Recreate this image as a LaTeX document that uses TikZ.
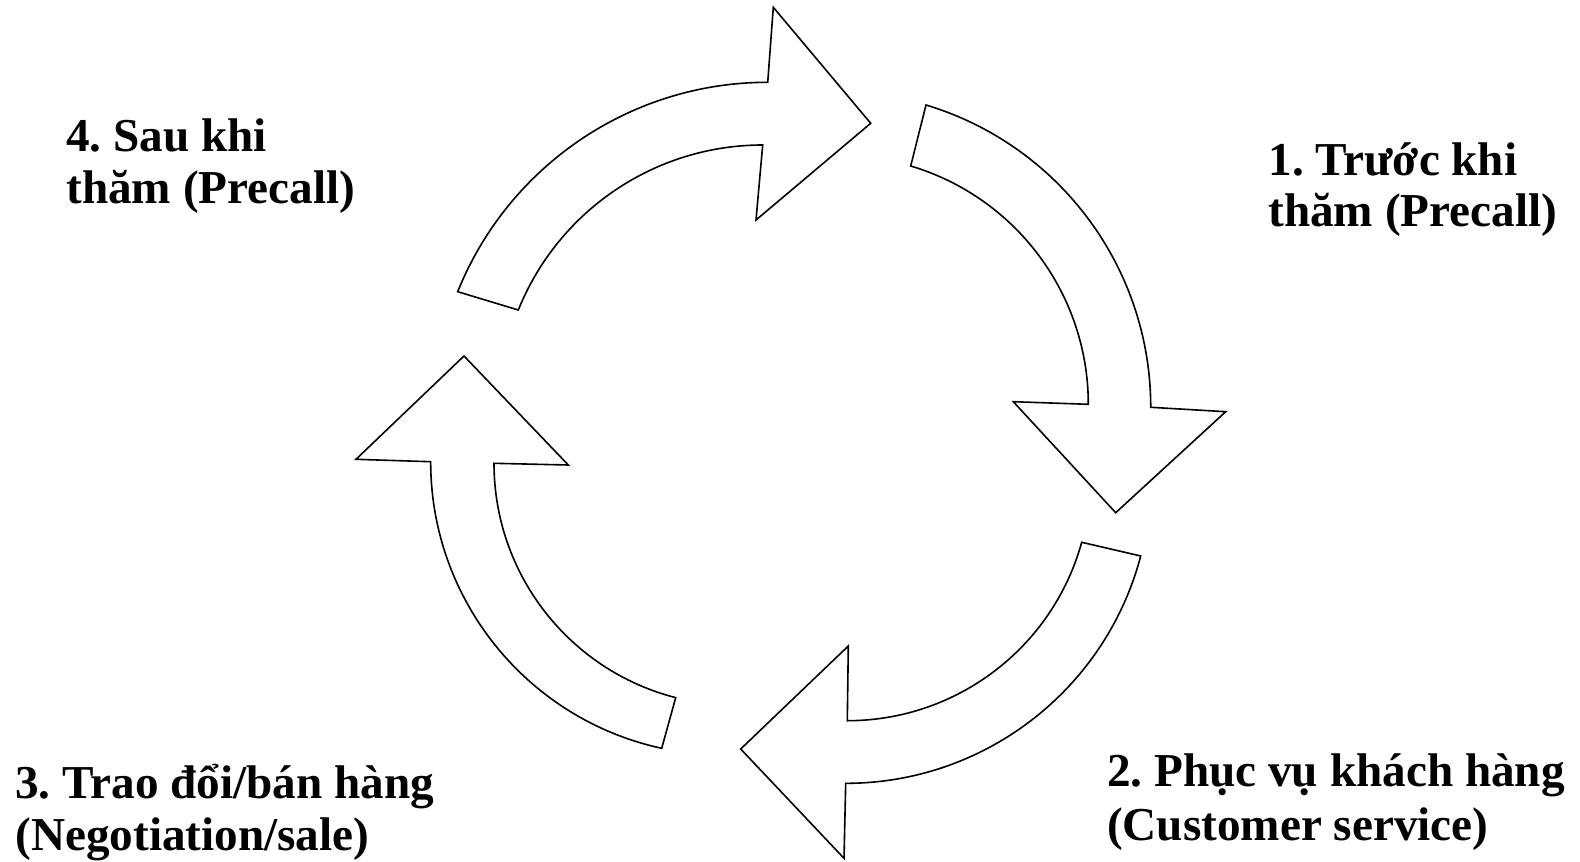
\documentclass[tikz,border=0pt]{standalone}
\usepackage{fontspec}
\setmainfont{Liberation Serif}
\frenchspacing
\begin{document}
\begin{tikzpicture}[x=0.5pt,y=-0.5pt,
  cyclearrow/.style={draw=black,fill=white,line width=0.8pt,line join=miter},
  lbl/.style={anchor=base west,inner sep=0pt,font=\fontsize{23.6pt}{26.5pt}\selectfont\bfseries\frenchspacing}]
\useasboundingbox (0,0) rectangle (1580,862);
% Arrow 1 (top, pointing right)
\draw[cyclearrow] (457.7,291.7) arc[start angle=201.93,end angle=270,radius=334.2]
  -- (773.3,7.3) -- (870.7,123.3) -- (756,220) -- (762.7,145)
  arc[start angle=270,end angle=201.95,radius=263.5] -- cycle;
% Arrow 2 (right, pointing down)
\draw[cyclearrow] (926,105) arc[start angle=-73.25,end angle=0,radius=315.7]
  -- (1225.7,411.7) -- (1115.7,512.7) -- (1013.3,401.7) -- (1088.3,404.3)
  arc[start angle=0,end angle=-73.39,radius=248.7] -- cycle;
% Arrow 3 (bottom, pointing left)
\draw[cyclearrow] (1140.7,556) arc[start angle=14.77,end angle=90,radius=305.1]
  -- (844,858.3) -- (740.7,749) -- (848.3,646) -- (847.3,720.7)
  arc[start angle=90,end angle=15.45,radius=243.2] -- cycle;
% Arrow 4 (left, pointing up)
\draw[cyclearrow] (661.7,748.3) arc[start angle=102.26,end angle=180,radius=293.3]
  -- (356,459.3) -- (464,356) -- (568.3,465) -- (494,463.3)
  arc[start angle=180,end angle=104.43,radius=242] -- cycle;
% Labels
\node[lbl] (t1a) at (1268,175) {1. Trước khi};
\node[lbl] (t1b) at (1268,226.5) {thăm (Precall)};
\node[lbl] (t2a) at (1106.7,786.7) {2. Phục vụ khách hàng};
\node[lbl] (t2b) at (1106.7,840) {(Customer service)};
\node[lbl] (t3a) at (15,798) {3. Trao đổi/bán hàng};
\node[lbl] (t3b) at (15,850) {(Negotiation/sale)};
\node[lbl] (t4a) at (66,151.7) {4. Sau khi};
\node[lbl] (t4b) at (66,203) {thăm (Precall)};
\end{tikzpicture}
\end{document}
